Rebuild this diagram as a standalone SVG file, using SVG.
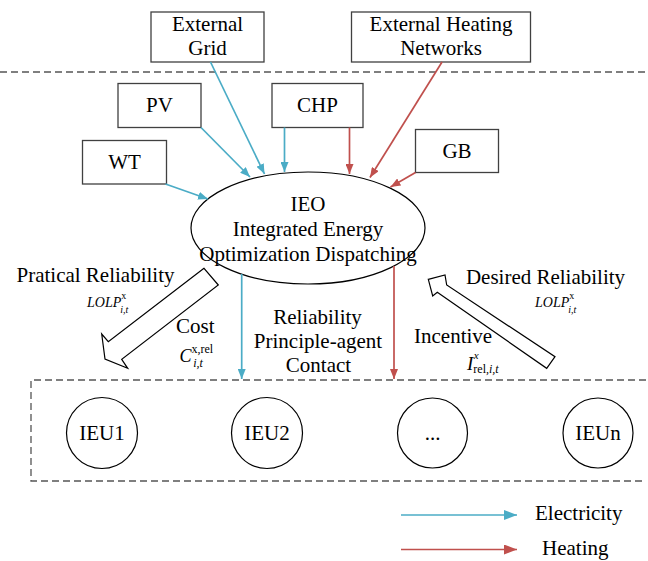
<svg xmlns="http://www.w3.org/2000/svg" width="648" height="561" viewBox="0 0 648 561">
  <style>
    text { font-family: "Liberation Serif", "DejaVu Serif", serif; font-size: 21px; fill: #000; }
    .c { text-anchor: middle; }
    .box { fill: #fff; stroke: #404040; stroke-width: 1.3; }
    .node { fill: #fff; stroke: #000; stroke-width: 1.2; }
    .elec { stroke: #4BACC6; stroke-width: 1.7; fill: none; marker-end: url(#ahE); }
    .heat { stroke: #C0504D; stroke-width: 1.7; fill: none; marker-end: url(#ahH); }
    .elecL { stroke: #4BACC6; stroke-width: 1.7; fill: none; marker-end: url(#ahEL); }
    .heatL { stroke: #C0504D; stroke-width: 1.7; fill: none; marker-end: url(#ahHL); }
    .dash { fill: none; stroke: #555; stroke-width: 1.3; stroke-dasharray: 7 4; }
    .hollow { fill: #fff; stroke: #000; stroke-width: 1.2; stroke-linejoin: miter; }
    .it { font-style: italic; }
  </style>
  <defs>
    <marker id="ahE" markerUnits="userSpaceOnUse" markerWidth="10" markerHeight="8" refX="10" refY="4" orient="auto">
      <path d="M0,0 L10,4 L0,8 z" fill="#4BACC6"/>
    </marker>
    <marker id="ahH" markerUnits="userSpaceOnUse" markerWidth="10" markerHeight="8" refX="10" refY="4" orient="auto">
      <path d="M0,0 L10,4 L0,8 z" fill="#C0504D"/>
    </marker>
    <marker id="ahEL" markerUnits="userSpaceOnUse" markerWidth="13" markerHeight="10" refX="13" refY="5" orient="auto">
      <path d="M0,0 L13,5 L0,10 z" fill="#4BACC6"/>
    </marker>
    <marker id="ahHL" markerUnits="userSpaceOnUse" markerWidth="13" markerHeight="10" refX="13" refY="5" orient="auto">
      <path d="M0,0 L13,5 L0,10 z" fill="#C0504D"/>
    </marker>
  </defs>

  <rect width="648" height="561" fill="#fff"/>

  <!-- boundary lines -->
  <line class="dash" x1="0" y1="72" x2="648" y2="72"/>
  <path class="dash" d="M646,380 H31 V481 H646"/>

  <!-- energy sources -->
  <g id="external-grid">
    <rect class="box" x="151" y="12" width="113" height="50"/>
    <text class="c" x="207.5" y="31">External</text>
    <text class="c" x="207.5" y="55">Grid</text>
  </g>
  <g id="external-heating">
    <rect class="box" x="351.5" y="12" width="179" height="50"/>
    <text class="c" x="441" y="31">External Heating</text>
    <text class="c" x="441" y="55">Networks</text>
  </g>
  <g id="pv">
    <rect class="box" x="118" y="83.5" width="83" height="44"/>
    <text class="c" x="159.5" y="112">PV</text>
  </g>
  <g id="chp">
    <rect class="box" x="272" y="83.5" width="91" height="44"/>
    <text class="c" x="317.5" y="112">CHP</text>
  </g>
  <g id="wt">
    <rect class="box" x="82.5" y="140.5" width="84" height="43.5"/>
    <text class="c" x="124.5" y="169">WT</text>
  </g>
  <g id="gb">
    <rect class="box" x="415.5" y="129.5" width="83" height="43"/>
    <text class="c" x="457" y="158">GB</text>
  </g>

  <!-- dispatcher -->
  <g id="ieo">
    <ellipse class="node" cx="308" cy="228" rx="117" ry="56"/>
    <text class="c" x="308" y="211">IEO</text>
    <text class="c" x="308" y="236">Integrated Energy</text>
    <text class="c" x="308" y="261">Optimization Dispatching</text>
  </g>

  <!-- energy units -->
  <g id="ieu1">
    <circle class="node" cx="102" cy="433" r="35.5"/>
    <text class="c" x="102" y="440">IEU1</text>
  </g>
  <g id="ieu2">
    <circle class="node" cx="267" cy="433" r="35.5"/>
    <text class="c" x="267" y="440">IEU2</text>
  </g>
  <g id="ieu-more">
    <circle class="node" cx="432.5" cy="433" r="35"/>
    <text class="c" x="432.5" y="440">...</text>
  </g>
  <g id="ieun">
    <circle class="node" cx="598" cy="433" r="35"/>
    <text class="c" x="598" y="440">IEUn</text>
  </g>

  <!-- flows -->
  <g id="connectors">
    <line class="elec" x1="165.5" y1="184" x2="208" y2="199"/>
    <line class="elec" x1="201" y1="127.5" x2="250" y2="177"/>
    <line class="elec" x1="210.5" y1="62" x2="264.5" y2="174"/>
    <line class="elec" x1="284.5" y1="127.5" x2="284.5" y2="172"/>
    <line class="heat" x1="349.5" y1="127.5" x2="349.5" y2="174"/>
    <line class="heat" x1="442" y1="62" x2="370" y2="177.5"/>
    <line class="heat" x1="415.5" y1="172.5" x2="390.5" y2="187"/>
    <line class="elec" x1="241.7" y1="274" x2="241.7" y2="379"/>
    <line class="heat" x1="394" y1="266" x2="394" y2="379"/>

    <!-- reliability block arrows -->
    <polygon class="hollow" points="204,268.3 108.3,341.7 101.7,334 105,359 127.7,368.3 121.7,359.3 218.3,285"/>
    <polygon class="hollow" points="428.3,279.3 445,275 446.7,285 555,356.7 546.7,368.3 437.3,292.3 432.7,296"/>

    <!-- legend -->
    <line class="elecL" x1="401" y1="515" x2="517" y2="515"/>
    <line class="heatL" x1="401" y1="549.5" x2="517" y2="549.5"/>
  </g>

  <!-- labels -->
  <text class="c" x="95.5" y="282">Pratical Reliability</text>
  <text x="87" y="307"><tspan class="it" font-size="14">LOLP</tspan><tspan font-size="10" dy="-8">x</tspan><tspan class="it" font-size="10" dx="-6" dy="14">i,t</tspan></text>
  <text x="176" y="333">Cost</text>
  <text x="179.5" y="362"><tspan class="it" font-size="18">C</tspan><tspan font-size="12" dy="-9">x,rel</tspan><tspan class="it" font-size="12" dx="-20" dy="14">i,t</tspan></text>

  <text class="c" x="317.5" y="323.5">Reliability</text>
  <text class="c" x="318" y="347.5">Principle-agent</text>
  <text class="c" x="318.5" y="372">Contact</text>

  <text class="c" x="545.5" y="283.5">Desired Reliability</text>
  <text x="535" y="307"><tspan class="it" font-size="14">LOLP</tspan><tspan font-size="10" dy="-8">x</tspan><tspan class="it" font-size="10" dx="-6" dy="14">i,t</tspan></text>
  <text x="414" y="343">Incentive</text>
  <text x="467" y="370"><tspan class="it" font-size="19">I</tspan><tspan font-size="12" dy="3">rel</tspan><tspan class="it" font-size="12">,i,t</tspan><tspan class="it" font-size="11" dx="-25" dy="-14">x</tspan></text>

  <text x="535" y="520">Electricity</text>
  <text x="542" y="555">Heating</text>
</svg>
